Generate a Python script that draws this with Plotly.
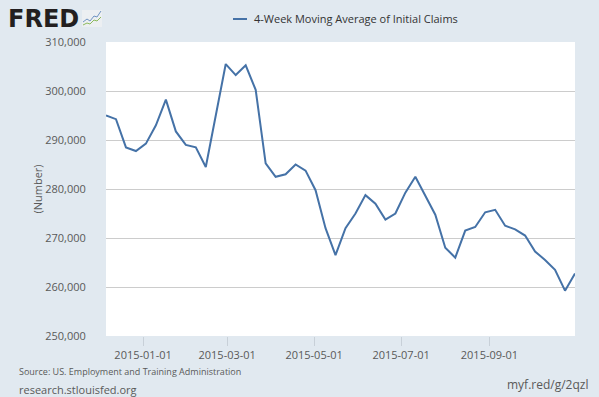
import plotly.graph_objects as go
import pandas as pd

# ---- data ----
dates = pd.date_range("2014-12-06", periods=48, freq="7D")
claims_4wk = [
    295000, 294250, 288500, 287750, 289250, 293000, 298250, 291750,
    289000, 288500, 284500, 294750, 305500, 303250, 305250, 300250,
    285250, 282500, 283000, 285000, 283750, 279750, 272000, 266500,
    272000, 275000, 278750, 277000, 273750, 275000, 279250, 282500,
    278750, 274750, 268000, 266000, 271500, 272250, 275250, 275750,
    272500, 271750, 270500, 267250, 265500, 263500, 259250, 262750,
]
series_name = "4-Week Moving Average of Initial Claims"
x_tick_vals = ["2015-01-01", "2015-03-01", "2015-05-01", "2015-07-01", "2015-09-01"]
y_tick_vals = [250000, 260000, 270000, 280000, 290000, 300000, 310000]

W, H = 599, 397
L, R, T, B = 106, 24, 42, 61
PW, PH = W - L - R, H - T - B


def px(x):
    return (x - L) / PW


def py(y):
    return (H - B - y) / PH


BG = "#e1e9f0"
LINE = "#4572a7"
TXT = "#595959"
FONT = "Open Sans"

fig = go.Figure()
fig.add_trace(go.Scatter(
    x=dates, y=claims_4wk, mode="lines", name=series_name,
    line=dict(color=LINE, width=2), showlegend=False,
))

fig.update_layout(
    width=W, height=H,
    margin=dict(l=L, r=R, t=T, b=B, pad=0),
    paper_bgcolor=BG, plot_bgcolor="white",
    font=dict(family=FONT, size=11, color=TXT),
    xaxis=dict(
        range=[dates[0], dates[-1]],
        tickvals=x_tick_vals, tickformat="%Y-%m-%d",
        ticks="outside", ticklen=9, tickcolor="#c8d0d8", tickwidth=1,
        showgrid=False, zeroline=False, showline=False,
        tickfont=dict(family=FONT, size=11, color=TXT),
    ),
    yaxis=dict(
        range=[250000, 310000], tickvals=y_tick_vals, tickformat=",d",
        ticks="outside", ticklen=17, tickcolor="rgba(0,0,0,0)",
        showgrid=True, gridcolor="#cccccc", gridwidth=1,
        zeroline=False, showline=False,
        tickfont=dict(family=FONT, size=11, color=TXT),
        title=dict(text="(Number)", standoff=0,
                   font=dict(family=FONT, size=11, color=TXT)),
    ),
)

annotations = [
    dict(text="<b>FRED</b>", x=px(6), y=py(19), xanchor="left", yanchor="middle",
         font=dict(family="DejaVu Sans", size=24, color="#231f20")),
    dict(text=series_name, x=px(252), y=py(18.5), xanchor="left", yanchor="middle",
         font=dict(family=FONT, size=11, color="#333333")),
    dict(text="Source: US. Employment and Training Administration", x=px(17), y=py(371),
         xanchor="left", yanchor="middle", font=dict(family=FONT, size=9, color=TXT)),
    dict(text="research.stlouisfed.org", x=px(17), y=py(389),
         xanchor="left", yanchor="middle", font=dict(family=FONT, size=11, color=TXT)),
    dict(text="myf.red/g/2qzl", x=px(590), y=py(384),
         xanchor="right", yanchor="middle", font=dict(family=FONT, size=12, color=TXT)),
]
for a in annotations:
    a.update(xref="paper", yref="paper", showarrow=False)
fig.update_layout(annotations=annotations)


def path(points):
    return "M " + " L ".join(f"{px(a)},{py(b)}" for a, b in points)


shapes = [
    dict(type="line", x0=px(233), x1=px(247), y0=py(19), y1=py(19),
         line=dict(color=LINE, width=2)),
    dict(type="rect", x0=px(82), x1=px(102), y0=py(27), y1=py(10),
         fillcolor="#eceff2", line=dict(width=0)),
    dict(type="path", path=path([(83, 22), (87, 19), (90, 21), (94, 16), (97, 17), (101, 11)]),
         line=dict(color="#6f93c2", width=1)),
    dict(type="path", path=path([(83, 25), (87, 23), (90, 24), (94, 20), (97, 21), (101, 17)]),
         line=dict(color="#8dbb5d", width=1)),
]
for s in shapes:
    s.update(xref="paper", yref="paper")
fig.update_layout(shapes=shapes)

fig.write_html(
    "out.html",
    config={"displayModeBar": False},
    post_script="document.body.style.margin='0';document.body.style.background='%s';"
                "document.body.style.overflow='hidden';" % BG,
)
